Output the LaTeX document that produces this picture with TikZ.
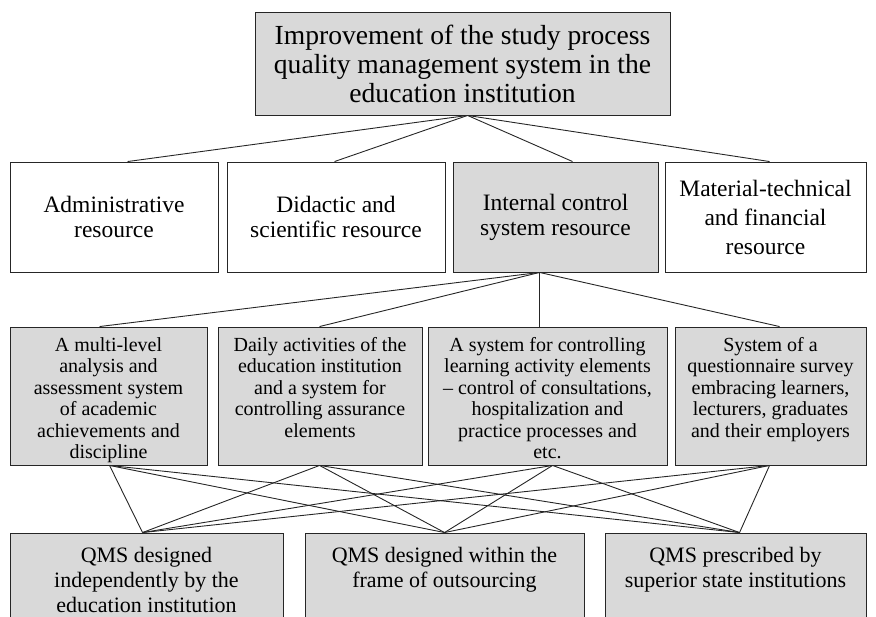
\documentclass[tikz,border=0pt]{standalone}
\usepackage{fontspec}
\setmainfont{Liberation Serif}
\usetikzlibrary{calc}
\definecolor{boxgray}{HTML}{D9D9D9}
\definecolor{linegray}{HTML}{262626}
\newcommand{\qcell}[4]{\parbox[c][#2][t]{#1}{\centering\vspace*{#3}\strut #4}}
\newcommand{\qmid}[3]{\parbox[c][#2][c]{#1}{\centering #3}}
\begin{document}
\begin{tikzpicture}[x=1pt,y=-1pt,
  box/.style={draw=linegray, line width=0.9pt, inner sep=0pt},
  gbox/.style={box, fill=boxgray},
  wbox/.style={box, fill=white},
  link/.style={draw=linegray, line width=0.9pt},
  ftop/.style={font=\fontsize{27.6pt}{29pt}\selectfont},
  frow/.style={font=\fontsize{23.5pt}{25pt}\selectfont},
  fmid/.style={font=\fontsize{20pt}{21.5pt}\selectfont},
  fbot/.style={font=\fontsize{22pt}{25pt}\selectfont}]
\useasboundingbox (0,0) rectangle (876,617);
\clip (0,0) rectangle (876,617);

% top
\node[gbox, ftop, minimum width=415pt, minimum height=103pt] (top) at (462.5,63.5)
  {\qmid{405pt}{100pt}{Improvement of the study process\\ quality management system in the\\ education institution}};

% row 2
\node[wbox, frow, minimum width=208pt, minimum height=110pt] (b1) at (114,217)
  {\qmid{200pt}{106pt}{Administrative\\ resource}};
\node[wbox, frow, minimum width=218pt, minimum height=110pt] (b2) at (336,217)
  {\qmid{210pt}{106pt}{Didactic and\\ scientific resource}};
\node[gbox, frow, minimum width=205pt, minimum height=110pt] (b3) at (555.5,217)
  {\qmid{197pt}{106pt}{Internal control\\ system resource}};
\node[wbox, font=\fontsize{23.5pt}{29pt}\selectfont, minimum width=201pt, minimum height=110pt] (b4) at (765.5,217)
  {\qmid{193pt}{106pt}{Material-technical\\ and financial\\ resource}};

% row 3
\node[gbox, fmid, minimum width=197pt, minimum height=138pt] (c1) at (108.5,396)
  {\qcell{191pt}{136pt}{8pt}{A multi-level\\ analysis and\\ assessment system\\ of academic\\ achievements and\\ discipline}};
\node[gbox, fmid, minimum width=204pt, minimum height=138pt] (c2) at (320,396)
  {\qcell{198pt}{136pt}{8pt}{Daily activities of the\\ education institution\\ and a system for\\ controlling assurance\\ elements}};
\node[gbox, fmid, minimum width=239pt, minimum height=138pt] (c3) at (547.5,396)
  {\qcell{233pt}{136pt}{8pt}{A system for controlling\\ learning activity elements\\ -- control of consultations,\\ hospitalization and\\ practice processes and\\ etc.}};
\node[gbox, fmid, minimum width=191pt, minimum height=138pt] (c4) at (770.5,396)
  {\qcell{185pt}{136pt}{8pt}{System of a\\ questionnaire survey\\ embracing learners,\\ lecturers, graduates\\ and their employers}};

% row 4
\node[gbox, fbot, minimum width=273pt, minimum height=112pt] (d1) at (146.5,589)
  {\qcell{265pt}{110pt}{10.5pt}{QMS designed\\ independently by the\\ education institution}};
\node[gbox, fbot, minimum width=279pt, minimum height=112pt] (d2) at (444.5,589)
  {\qcell{271pt}{110pt}{10.5pt}{QMS designed within the\\ frame of outsourcing}};
\node[gbox, fbot, minimum width=261pt, minimum height=112pt] (d3) at (735.5,589)
  {\qcell{253pt}{110pt}{10.5pt}{QMS prescribed by\\ superior state institutions}};

% connection points
\coordinate (ts) at ($(top.south west)+(213,0)$);
\coordinate (b1n) at ($(b1.north west)+(118,0)$);
\coordinate (b2n) at ($(b2.north west)+(108,0)$);
\coordinate (b3n) at ($(b3.north west)+(120,0)$);
\coordinate (b4n) at ($(b4.north west)+(105,0)$);
\coordinate (b3s) at ($(b3.south west)+(87,0)$);
\coordinate (c1n) at ($(c1.north west)+(90,0)$);
\coordinate (c2n) at ($(c2.north west)+(102,0)$);
\coordinate (c3n) at ($(c3.north west)+(112,0)$);
\coordinate (c4n) at ($(c4.north west)+(105,0)$);
\coordinate (c1s) at ($(c1.south west)+(100,0)$);
\coordinate (c2s) at ($(c2.south west)+(102,0)$);
\coordinate (c3s) at ($(c3.south west)+(125,0)$);
\coordinate (c4s) at ($(c4.south west)+(95,0)$);
\coordinate (d1n) at ($(d1.north west)+(133,0)$);
\coordinate (d2n) at ($(d2.north west)+(140,0)$);
\coordinate (d3n) at ($(d3.north west)+(135,0)$);

\foreach \p in {b1n,b2n,b3n,b4n} \draw[link] (ts) -- (\p);
\foreach \p in {c1n,c2n,c3n,c4n} \draw[link] (b3s) -- (\p);
\foreach \a in {c1s,c2s,c3s,c4s}
  \foreach \b in {d1n,d2n,d3n}
    \draw[link] (\a) -- (\b);
\end{tikzpicture}
\end{document}
